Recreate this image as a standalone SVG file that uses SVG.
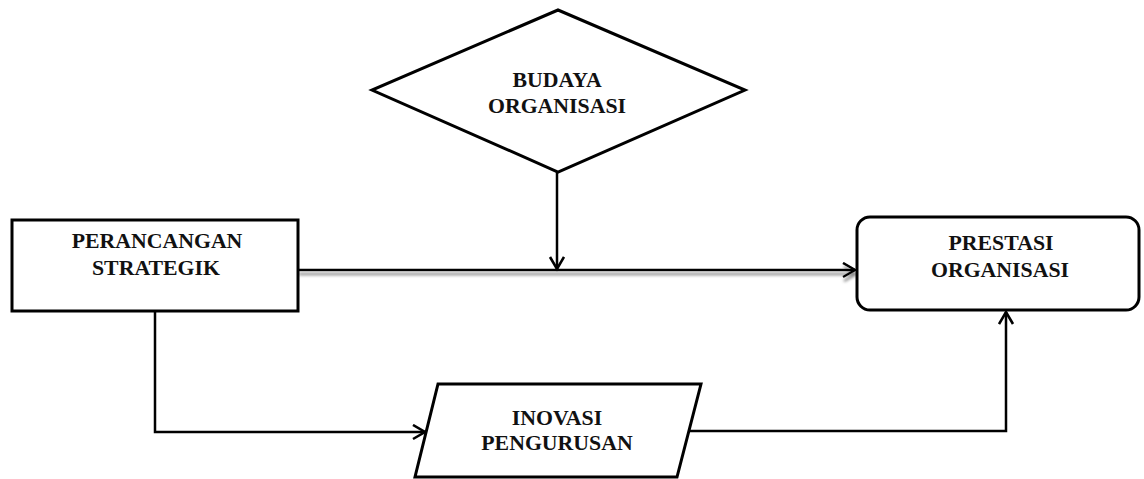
<svg xmlns="http://www.w3.org/2000/svg" width="1144" height="479" viewBox="0 0 1144 479">
  <style>
    .shape { fill: #ffffff; stroke: #000000; stroke-width: 3; stroke-linejoin: miter; }
    .label { font-family: "Liberation Serif", "Times New Roman", serif; font-weight: bold; font-size: 21.8px; fill: #111111; text-anchor: middle; }
    .conn { fill: none; stroke: #000000; stroke-width: 2.5; }
  </style>
  <defs>
    <marker id="arrow" markerUnits="userSpaceOnUse" markerWidth="16" markerHeight="18" refX="13" refY="8" orient="auto">
      <path d="M1,1 L13,8 L1,15" fill="none" stroke="#000000" stroke-width="2.6"/>
    </marker>
    <filter id="soft-shadow" filterUnits="userSpaceOnUse" x="280" y="250" width="600" height="45">
      <feGaussianBlur in="SourceAlpha" stdDeviation="1.4" result="blur"/>
      <feOffset in="blur" dx="1" dy="4" result="off"/>
      <feFlood flood-color="#8a8a8a"/>
      <feComposite in2="off" operator="in" result="shadow"/>
      <feMerge>
        <feMergeNode in="shadow"/>
        <feMergeNode in="SourceGraphic"/>
      </feMerge>
    </filter>
  </defs>

  <rect width="1144" height="479" fill="#ffffff"/>

  <!-- connectors -->
  <g id="connectors">
    <g filter="url(#soft-shadow)">
      <line class="conn" x1="298" y1="270" x2="855" y2="270" stroke-width="3" marker-end="url(#arrow)"/>
    </g>
    <line class="conn" x1="557" y1="172" x2="557" y2="269" marker-end="url(#arrow)"/>
    <polyline class="conn" points="155,311 155,432 425,432" marker-end="url(#arrow)"/>
    <polyline class="conn" points="689,431 1006,431 1006,312" marker-end="url(#arrow)"/>
  </g>

  <!-- nodes -->
  <g id="node-budaya">
    <polygon class="shape" points="558,10 745,90 558,172 372,90"/>
    <text class="label" x="557" y="87">BUDAYA</text>
    <text class="label" x="557" y="113">ORGANISASI</text>
  </g>

  <g id="node-perancangan">
    <rect class="shape" x="12" y="220" width="286" height="91"/>
    <text class="label" x="157" y="248">PERANCANGAN</text>
    <text class="label" x="156" y="275">STRATEGIK</text>
  </g>

  <g id="node-prestasi">
    <rect class="shape" x="857" y="217" width="282" height="93" rx="13" ry="13"/>
    <text class="label" x="1001" y="250">PRESTASI</text>
    <text class="label" x="1000" y="277">ORGANISASI</text>
  </g>

  <g id="node-inovasi">
    <polygon class="shape" points="438,384 701,384 677,477 415,477"/>
    <text class="label" x="557" y="425">INOVASI</text>
    <text class="label" x="557" y="450">PENGURUSAN</text>
  </g>
</svg>
